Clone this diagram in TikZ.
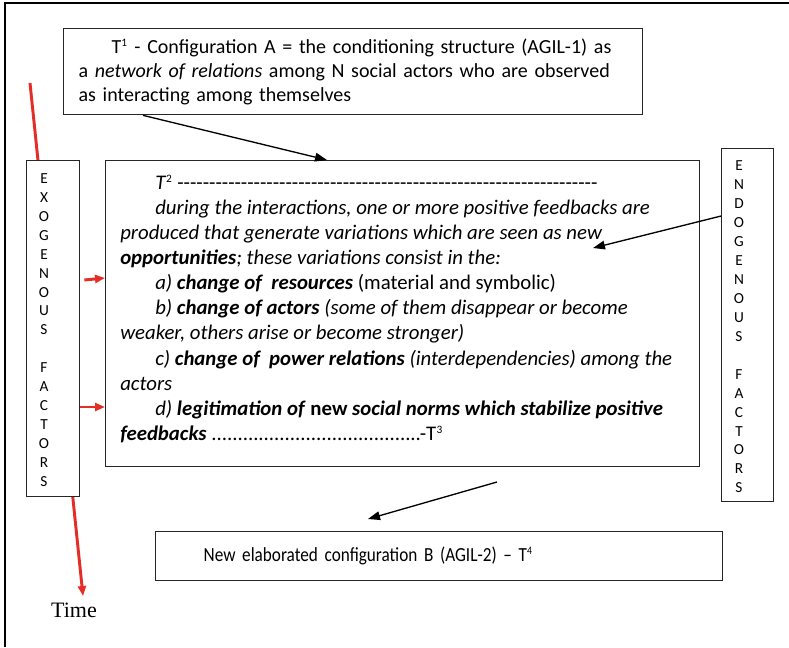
\documentclass[tikz,border=0pt]{standalone}
\usepackage{fontspec}
\setmainfont{Carlito}[Ligatures=TeXOff]
\newfontfamily\timesfont{Liberation Serif}
\newfontfamily\narrowfont{Carlito}[FakeStretch=0.86]
\usetikzlibrary{arrows.meta,positioning}
\definecolor{tred}{RGB}{228,45,38}
\newcommand\ind{\hspace*{26.25pt}}
\newcommand\sups[1]{\textsuperscript{\fontsize{8.5}{8.5}\selectfont#1}}
\newcommand\dashrow{\foreach \k in {1,...,66}{-}}
\newcommand\dotrow{\foreach \k in {1,...,40}{.}}

\begin{document}
\begin{tikzpicture}[x=0.75pt, y=-0.75pt,
  font=\fontsize{15}{18}\selectfont,
  >={Triangle[length=9pt,width=6.5pt]},
  box/.style={draw=black!85, line width=1pt, fill=white, inner sep=0pt},
  letters/.style={font=\fontsize{11.5}{14.2}\selectfont, align=center, inner sep=0pt},
  txt/.style={align=left, inner sep=0pt, anchor=north west},
  arr/.style={->, line width=1pt},
  redarr/.style={-{Triangle[length=7.5pt,width=6pt]}, draw=tred, line width=2.2pt}]
\useasboundingbox (0,0) rectangle (789,647);
\draw[line width=1pt] (789,3) -| (5,647);

% time axis behind the exogenous box
\coordinate (timetop) at (30,83);
\coordinate (timetip) at (83,596);
\draw[redarr] (timetop) -- (timetip);
\node[font=\timesfont\fontsize{16.5}{18}\selectfont, inner sep=0pt] (time) at (74,610) {Time};

% configurations
\node[box, anchor=north west, align=left, text width=411.75pt, inner xsep=11.25pt,
  minimum height=64.5pt] (t1) at (63,28)
  {\hspace*{24.75pt}T\sups{1} - Configuration A = the conditioning structure (AGIL-1) as\\
   a \textit{network of relations} among N social actors who are observed\\
   as interacting among themselves};
\node[box, anchor=north west, minimum width=445.5pt, minimum height=229.5pt] (t2) at (105,160) {};
\node[txt, font=\fontsize{15.6}{18.8}\selectfont] (t2txt) at (120,175)
  {\ind\textit{T}\sups{2} \dashrow\\
   \ind\textit{during the interactions, one or more positive feedbacks are}\\
   \textit{produced that generate variations which are seen as new}\\
   \textbf{\textit{opportunities}}\textit{; these variations consist in the:}\\
   \ind\textit{a)} \textbf{\textit{change of~ resources}} (material and symbolic)\\
   \ind\textit{b)} \textbf{\textit{change of actors}} \textit{(some of them disappear or become}\\
   \textit{weaker, others arise or become stronger)}\\
   \ind\textit{c)} \textbf{\textit{change of~ power relations}} \textit{(interdependencies) among the}\\
   \textit{actors}\\
   \ind\textit{d)} \textbf{\textit{legitimation of} new \textit{social norms which stabilize positive}}\\
   \textbf{\textit{feedbacks}} \dotrow-T\sups{3}};
\node[box, anchor=north west, align=left, text width=353.25pt, inner xsep=36pt,
  minimum height=36.75pt, font=\narrowfont\fontsize{15}{18}\selectfont] (t4) at (155,531)
  {New elaborated configuration B (AGIL-2) – T\sups{4}};

% factors
\node[box, anchor=north west, minimum width=39.75pt, minimum height=252pt] (exo) at (26,160) {};
\node[letters] (exotxt) at (44,330)
  {E\\X\\O\\G\\E\\N\\O\\U\\S\\[14.2pt]F\\A\\C\\T\\O\\R\\S};
\node[box, anchor=north west, minimum width=39pt, minimum height=264.75pt] (endo) at (721,148) {};
\node[letters] (endotxt) at (739,327)
  {E\\N\\D\\O\\G\\E\\N\\O\\U\\S\\[14.2pt]F\\A\\C\\T\\O\\R\\S};

% connectors
\coordinate (opp) at (593,248);
\coordinate (b0) at (497,482);
\coordinate (b1) at (368,519);
\draw[arr] (t1.south -| 143,0) -- (t2.north -| 327,0);
\draw[arr] (endo.west |- 0,216) -- (opp);
\draw[arr] (b0) -- (b1);
\draw[redarr] ([xshift=3pt]exo.east |- 0,280) -- (t2.west |- 0,278);
\draw[redarr] (exo.east |- 0,407) -- (t2.west |- 0,407);
\end{tikzpicture}
\end{document}
